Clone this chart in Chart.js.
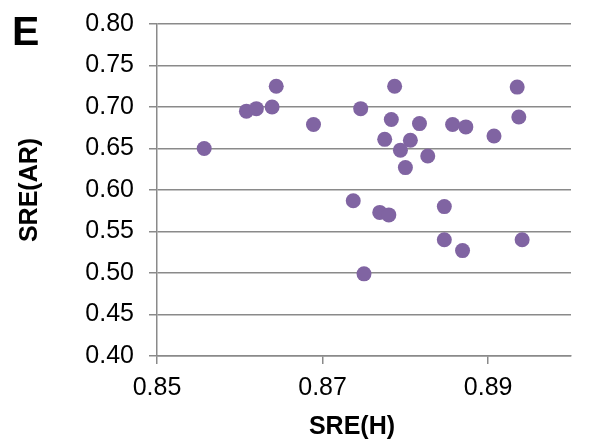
<!DOCTYPE html>
<html>
<head>
<meta charset="utf-8">
<script src="https://cdn.jsdelivr.net/npm/chart.js@4.4.1/dist/chart.umd.min.js"></script>
<style>
  html, body { margin: 0; padding: 0; background: #fff; }
  #wrap { position: relative; width: 597px; height: 441px; }
</style>
</head>
<body>
<div id="wrap"><canvas id="myChart" width="597" height="441"></canvas></div>
<script>
// SRE(H) vs SRE(AR), panel E
const sreH = [0.8557, 0.8608, 0.8620, 0.8639, 0.8644, 0.8689, 0.8746, 0.8787, 0.8783, 0.8817,
              0.8857, 0.8873, 0.8907, 0.8935, 0.8937, 0.8775, 0.8806, 0.8794, 0.8827, 0.8800,
              0.8737, 0.8769, 0.8780, 0.8847, 0.8847, 0.8869, 0.8941, 0.8750];
const sreAR = [0.650, 0.695, 0.698, 0.700, 0.725, 0.679, 0.698, 0.725, 0.685, 0.680,
               0.679, 0.676, 0.665, 0.724, 0.688, 0.661, 0.660, 0.648, 0.641, 0.627,
               0.587, 0.573, 0.570, 0.580, 0.540, 0.527, 0.540, 0.499];
const xTickValues = [0.85, 0.87, 0.89];
const panelLabel = "E";
const xTitle = "SRE(H)";
const yTitle = "SRE(AR)";

const points = sreH.map((x, i) => ({ x: x, y: sreAR[i] }));
const gridGray = "#8a8a8a";
const fontFam = "'Liberation Sans', Arial, sans-serif";

// panel letter and x title are drawn here (x title sits a bit left of the plot centre)
const labelPlugin = {
  id: "extraLabels",
  afterDraw(chart) {
    const ctx = chart.ctx;
    ctx.save();
    ctx.fillStyle = "#000";
    ctx.textBaseline = "alphabetic";
    ctx.font = "bold 41px " + fontFam;
    ctx.textAlign = "left";
    ctx.fillText(panelLabel, 12, 45);
    ctx.font = "bold 25px " + fontFam;
    ctx.textAlign = "center";
    ctx.fillText(xTitle, 352, 434);
    ctx.restore();
  }
};

const myChart = new Chart(document.getElementById("myChart"), {
  type: "scatter",
  data: {
    datasets: [{
      data: points,
      backgroundColor: "#8064a2",
      borderWidth: 0,
      pointRadius: 7.5,
      pointHoverRadius: 7.5
    }]
  },
  options: {
    responsive: false,
    animation: false,
    layout: { padding: { left: 11, right: 26, top: 24, bottom: 0 } },
    plugins: { legend: { display: false }, tooltip: { enabled: false } },
    scales: {
      x: {
        min: 0.85,
        max: 0.90,
        afterBuildTicks: (scale) => { scale.ticks = xTickValues.map(v => ({ value: v })); },
        afterFit: (scale) => { scale.height = 85; },
        grid: { drawOnChartArea: false, drawTicks: true, tickLength: 8, color: gridGray, lineWidth: 1.5 },
        border: { display: true, color: gridGray, width: 1.5 },
        ticks: {
          padding: 9,
          color: "#000",
          font: { family: fontFam, size: 25 },
          maxRotation: 0,
          callback: (v) => Number(v).toFixed(2)
        },
        title: { display: false }
      },
      y: {
        min: 0.40,
        max: 0.80,
        ticks: {
          stepSize: 0.05,
          padding: 15,
          color: "#000",
          font: { family: fontFam, size: 25 },
          callback: (v) => Number(v).toFixed(2)
        },
        afterFit: (scale) => {
          scale.width = 146;
          scale.paddingTop = 0;
          scale.paddingBottom = 0;
        },
        grid: { drawTicks: true, tickLength: 8, color: gridGray, lineWidth: 1.5 },
        border: { display: true, color: gridGray, width: 1.5 },
        title: {
          display: true,
          text: yTitle,
          color: "#000",
          font: { family: fontFam, size: 25, weight: "bold" },
          padding: { top: 4, bottom: 4 }
        }
      }
    }
  },
  plugins: [labelPlugin]
});
</script>
</body>
</html>
